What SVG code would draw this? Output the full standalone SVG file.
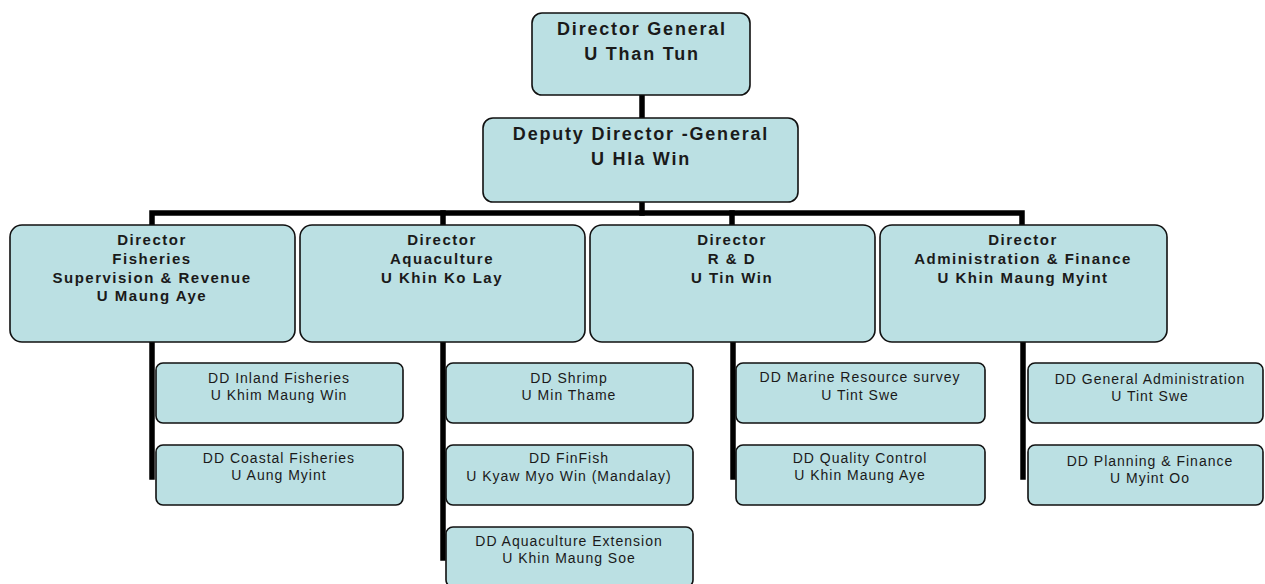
<svg xmlns="http://www.w3.org/2000/svg" width="1265" height="584" viewBox="0 0 1265 584">
<style>
.box{fill:#bbe0e3;stroke:#111;stroke-width:1.6}
.ln{stroke:#000;stroke-width:5.5;fill:none;stroke-linecap:square}
text{font-family:"Liberation Sans",Arial,sans-serif;fill:#1a1a1a;text-anchor:middle}
.t1{font-size:18px;font-weight:bold;letter-spacing:1.8px}
.t2{font-size:15px;font-weight:bold;letter-spacing:1.5px}
.t3{font-size:14px;letter-spacing:1px}
</style>
<rect width="1265" height="584" fill="#fff"/>
<g id="connectors">
<line class="ln" x1="642" y1="95" x2="642" y2="118"/>
<line class="ln" x1="642" y1="202" x2="642" y2="213"/>
<polyline class="ln" points="152,225 152,213 1022,213 1022,225"/>
<line class="ln" x1="443" y1="213" x2="443" y2="225"/>
<line class="ln" x1="732" y1="213" x2="732" y2="225"/>
<line class="ln" x1="152" y1="342" x2="152" y2="477"/>
<line class="ln" x1="443" y1="342" x2="443" y2="558"/>
<line class="ln" x1="733" y1="342" x2="733" y2="477"/>
<line class="ln" x1="1023" y1="342" x2="1023" y2="477"/>
</g>
<g id="dg"><rect class="box" x="532" y="13" width="218" height="82" rx="10"/>
<text class="t1" x="642" y="35">Director General</text><text class="t1" x="642" y="60">U Than Tun</text></g>
<g id="ddg"><rect class="box" x="483" y="118" width="315" height="84" rx="10"/>
<text class="t1" x="641" y="140">Deputy Director -General</text><text class="t1" x="641" y="165">U Hla Win</text></g>
<g id="dir1"><rect class="box" x="10" y="225" width="285" height="117" rx="12"/>
<text class="t2" x="152" y="245">Director</text><text class="t2" x="152" y="264">Fisheries</text><text class="t2" x="152" y="283">Supervision &amp; Revenue</text><text class="t2" x="152" y="301">U Maung Aye</text></g>
<g id="dir2"><rect class="box" x="300" y="225" width="285" height="117" rx="12"/>
<text class="t2" x="442" y="245">Director</text><text class="t2" x="442" y="264">Aquaculture</text><text class="t2" x="442" y="283">U Khin Ko Lay</text></g>
<g id="dir3"><rect class="box" x="590" y="225" width="285" height="117" rx="12"/>
<text class="t2" x="732" y="245">Director</text><text class="t2" x="732" y="264">R &amp; D</text><text class="t2" x="732" y="283">U Tin Win</text></g>
<g id="dir4"><rect class="box" x="880" y="225" width="287" height="117" rx="12"/>
<text class="t2" x="1023" y="245">Director</text><text class="t2" x="1023" y="264">Administration &amp; Finance</text><text class="t2" x="1023" y="283">U Khin Maung Myint</text></g>
<g id="dd1"><rect class="box" x="156" y="363" width="247" height="60" rx="7"/>
<text class="t3" x="279" y="383">DD Inland Fisheries</text><text class="t3" x="279" y="400">U Khim Maung Win</text></g>
<g id="dd2"><rect class="box" x="156" y="445" width="247" height="60" rx="7"/>
<text class="t3" x="279" y="463">DD Coastal Fisheries</text><text class="t3" x="279" y="480">U Aung Myint</text></g>
<g id="dd3"><rect class="box" x="446" y="363" width="247" height="60" rx="7"/>
<text class="t3" x="569" y="383">DD Shrimp</text><text class="t3" x="569" y="400">U Min Thame</text></g>
<g id="dd4"><rect class="box" x="446" y="445" width="247" height="60" rx="7"/>
<text class="t3" x="569" y="463">DD FinFish</text><text class="t3" x="569" y="481">U Kyaw Myo Win (Mandalay)</text></g>
<g id="dd5"><rect class="box" x="446" y="527" width="247" height="60" rx="7"/>
<text class="t3" x="569" y="546">DD Aquaculture Extension</text><text class="t3" x="569" y="563">U Khin Maung Soe</text></g>
<g id="dd6"><rect class="box" x="736" y="363" width="249" height="60" rx="7"/>
<text class="t3" x="860" y="382">DD Marine Resource survey</text><text class="t3" x="860" y="400">U Tint Swe</text></g>
<g id="dd7"><rect class="box" x="736" y="445" width="249" height="60" rx="7"/>
<text class="t3" x="860" y="463">DD Quality Control</text><text class="t3" x="860" y="480">U Khin Maung Aye</text></g>
<g id="dd8"><rect class="box" x="1028" y="363" width="235" height="60" rx="7"/>
<text class="t3" x="1150" y="384">DD General Administration</text><text class="t3" x="1150" y="401">U Tint Swe</text></g>
<g id="dd9"><rect class="box" x="1028" y="445" width="235" height="60" rx="7"/>
<text class="t3" x="1150" y="466">DD Planning &amp; Finance</text><text class="t3" x="1150" y="483">U Myint Oo</text></g>
</svg>
